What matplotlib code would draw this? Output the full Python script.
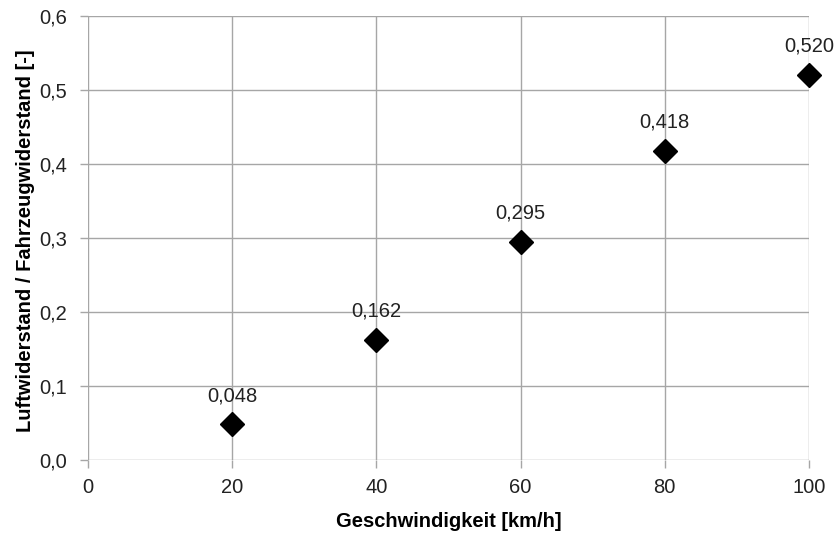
import matplotlib
matplotlib.use("Agg")
import matplotlib.pyplot as plt

speed = [20, 40, 60, 80, 100]
ratio = [0.048, 0.162, 0.295, 0.418, 0.520]
ratio_labels = ["0,048", "0,162", "0,295", "0,418", "0,520"]
x_ticks = [0, 20, 40, 60, 80, 100]
y_ticks = [0.0, 0.1, 0.2, 0.3, 0.4, 0.5, 0.6]
y_tick_labels = ["0,0", "0,1", "0,2", "0,3", "0,4", "0,5", "0,6"]

plt.rcParams['font.family'] = ['Liberation Sans', 'DejaVu Sans']

fig = plt.figure(figsize=(8.4, 5.34), dpi=100)
ax = fig.add_axes([88 / 840, 1 - 460 / 534, 721 / 840, 444 / 534])

ax.plot(speed, ratio, linestyle='none', marker='D', markersize=12.5,
        color='black', zorder=3, clip_on=False)
for x, y, lab in zip(speed, ratio, ratio_labels):
    ax.annotate(lab, (x, y), xytext=(0, 14), textcoords='offset points',
                ha='center', va='bottom', fontsize=14.5, color='#222222')

ax.set_xlim(0, 100)
ax.set_ylim(0, 0.6)
ax.set_xticks(x_ticks)
ax.set_yticks(y_ticks)
ax.set_yticklabels(y_tick_labels)
ax.grid(True, color='#a6a6a6', linewidth=1)
ax.set_axisbelow(True)
for s in ax.spines.values():
    s.set_visible(False)
ax.tick_params(axis='both', length=6, width=1, color='#a6a6a6',
               labelsize=14.5, labelcolor='#222222')
ax.tick_params(axis='y', pad=9)
ax.tick_params(axis='x', pad=7)

ax.set_xlabel("Geschwindigkeit [km/h]", fontsize=14.5, fontweight='bold', labelpad=11)
ax.set_ylabel("Luftwiderstand / Fahrzeugwiderstand [-]", fontsize=14.5,
              fontweight='bold')
ax.yaxis.set_label_coords(-0.074, 0.495)

fig.savefig("out.png", dpi=100)
